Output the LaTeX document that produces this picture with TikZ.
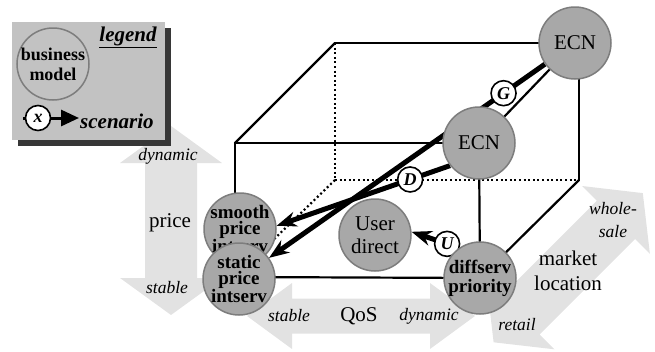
\documentclass[tikz,border=0pt]{standalone}
\usepackage{fontspec}
\setmainfont{Liberation Serif}
\usepackage{xcolor}
\usepackage{tikz}
\usetikzlibrary{arrows.meta}

\definecolor{bandgray}{RGB}{226,226,226}
\definecolor{discgray}{RGB}{168,168,168}
\definecolor{rimgray}{RGB}{125,125,125}
\definecolor{boxgray}{RGB}{194,194,194}
\definecolor{shadowgray}{RGB}{55,55,55}

\pgfdeclarelayer{background}
\pgfsetlayers{background,main}

\tikzset{
  disc/.style={circle, draw=rimgray, line width=1.5pt, fill=discgray, minimum size=72pt, inner sep=-6pt, align=center},
  disctext/.style={font=\fontsize{19}{16}\selectfont\bfseries},
  tag/.style={circle, draw=black, line width=1.6pt, fill=white, minimum size=25pt, inner sep=0pt, font=\fontsize{18}{18}\selectfont\bfseries\itshape},
  flow/.style={line width=5pt, -{Stealth[length=20pt,width=15pt]}},
  cubeline/.style={line width=2.2pt, line cap=round},
  cubedot/.style={line width=2.2pt, dash pattern=on 2pt off 2.6pt},
  axisname/.style={font=\fontsize{21}{25}\selectfont, align=center, inner sep=0pt},
  axisend/.style={font=\fontsize{17.5}{23}\selectfont\itshape, align=center, inner sep=0pt},
}

\begin{document}
\begin{tikzpicture}[x=1pt,y=1pt,yscale=-1,xscale=1]
\useasboundingbox (0,0) rectangle (655,351);

%Shape: Legend box with shadow
\fill [shadowgray] (18,28) rectangle (171,146);
\fill [boxgray] (12,22) rectangle (165,140);
\node [disc, fill=boxgray, font=\fontsize{18}{20}\selectfont\bfseries] (bmKey) at (53,64) {business\\model};
% Text Node
\node [font=\fontsize{21}{21}\selectfont\bfseries\itshape] (legendT) at (128,37) {\underline{legend}};
% Text Node
\node [anchor=west, inner sep=1pt, font=\fontsize{21}{21}\selectfont\bfseries\itshape] (scenT) at (79,121) {scenario};
\coordinate (keyStart) at (23,118);
\draw [line width=3pt, -{Triangle[length=18pt,width=16pt]}] (keyStart) -- (keyStart -| scenT.west);
\node [tag] (keyX) at (38,118) {x};

%Shape: Circles of the business models
\node [disc] (ecnTop) at (575,43) {\fontsize{21}{21}\selectfont ECN};
\node [disc] (ecnMid) at (479,143) {\fontsize{21}{21}\selectfont ECN};
\node [disc, font=\fontsize{21}{23}\selectfont] (userDirect) at (375,235) {User\\direct};
\node [disc, disctext] (smooth) at (240,229) {smooth\\price\\intserv};
\node [disc, disctext] (static) at (239,279) {static\\price\\intserv};
\node [disc, font=\fontsize{19}{19}\selectfont\bfseries] (diffserv) at (480,278) {diffserv\\priority};

% Text Node
\node [axisend] (priceHi) at (168,156) {dynamic};
\node [axisname] (priceT) at (170,223) {price};
\node [axisend] (priceLo) at (167,288) {stable};
% Text Node
\node [axisend] (qosLo) at (289,316) {stable};
\node [axisname] (qosT) at (359,316) {QoS};
\node [axisend] (qosHi) at (429,316) {dynamic};
% Text Node
\node [axisname] (marketT) at (568,271) {market\\location};
\node [axisend] (marketHi) at (613,220) {whole-\\sale};
\node [axisend] (marketLo) at (517,325) {retail};

%Cube corners
\coordinate (ftl) at (235,143);
\coordinate (fbl) at (235,277);
\coordinate (btl) at (335,43);
\coordinate (bbl) at (335,180);
\coordinate (bbr) at (579,180);

\begin{pgfonlayer}{background}
%Double Arrows
\fill [bandgray] (171,126) -- (222,163) -- (197,163) -- (197,278) -- (222,278) -- (171,315) -- (120,278) -- (145,278) -- (145,163) -- (120,163) -- cycle;
\fill [bandgray] (247,316) -- (292,283) -- (292,298.5) -- (430,298.5) -- (430,283) -- (475,316) -- (430,349) -- (430,333.5) -- (292,333.5) -- (292,349) -- cycle;
\fill [bandgray] (493.6,342.3) -- (486.5,281.4) -- (501.4,296.3) -- (596.9,200.8) -- (582,186) -- (642.8,193.1) -- (649.9,253.9) -- (635,239) -- (539.6,334.5) -- (554.4,349.3) -- cycle;

%Straight Lines
\draw [cubeline] (btl) -- (ecnTop);
\draw [cubeline] (ftl) -- (btl);
\draw [cubeline] (ftl) -- (ecnMid);
\draw [cubeline] (ecnTop) -- (ecnMid);
\draw [cubeline] (bbr |- ecnTop) -- (bbr);
\draw [cubeline] (ftl) -- (fbl);
\draw [cubeline] (fbl) -- (diffserv);
\draw [cubeline] (ecnMid) -- (diffserv);
\draw [cubeline] (bbr) -- (diffserv);
\draw [cubedot] (btl) -- (bbl);
\draw [cubedot] (bbl) -- (bbr);
\draw [cubedot] (bbl) -- (fbl);

%Scenario arrows
\draw [flow] (ecnTop) -- node [tag, pos=0.15] (tagG) {G} (static);
\draw [flow] (ecnMid.218) -- node [tag, pos=0.23] (tagD) {D} (smooth.5);
\draw [flow] (diffserv.125) -- node [tag, pos=0.25] (tagU) {U} (userDirect.5);
\end{pgfonlayer}

\end{tikzpicture}
\end{document}
